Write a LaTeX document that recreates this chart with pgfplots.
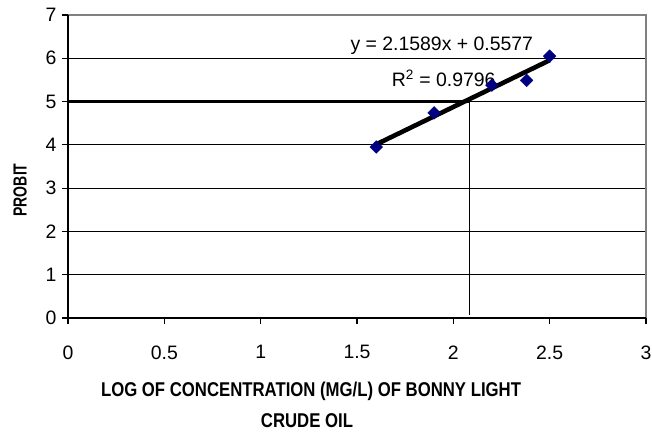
\documentclass[border=0pt]{standalone}
\usepackage{fontspec}
\setmainfont{Liberation Sans}
\newfontfamily\titlefont{Liberation Sans}[FakeStretch=0.84]
\newfontfamily\probitfont{Liberation Sans}[FakeStretch=0.74]
\usepackage{pgfplots}
\pgfplotsset{compat=1.18}
\definecolor{marknavy}{RGB}{0,0,128}
\begin{document}
\begin{tikzpicture}[x=1bp,y=1bp]
\useasboundingbox (-68,-114) rectangle (584,318);
\begin{axis}[
  at={(0,0)}, anchor=south west,
  scale only axis, width=578bp, height=303bp,
  xmin=0, xmax=3, ymin=0, ymax=7,
  xtick={0,0.5,1,1.5,2,2.5,3},
  ytick={0,1,2,3,4,5,6,7},
  xticklabels={0,0.5,1,1.5,2,2.5,3},
  yticklabels={0,1,2,3,4,5,6,7},
  tick align=outside, major tick length=6bp,
  xtick pos=bottom, ytick pos=left,
  tick style={black, line width=1.2bp},
  axis line style={draw=none},
  ymajorgrids, grid style={black, line width=1.1bp},
  ticklabel style={font=\fontsize{19.5}{22}\selectfont},
  xticklabel style={yshift=-18bp},
  yticklabel style={xshift=-2bp},
  /pgf/number format/assume math mode=true,
  clip=false,
]
\draw[gray, line width=1.3bp] (rel axis cs:0,1) -- (rel axis cs:1,1) -- (rel axis cs:1,0);
\draw[black, line width=1.5bp] (rel axis cs:0,1) -- (rel axis cs:0,0) -- (rel axis cs:1,0);
\addplot[black, line width=2.4bp] coordinates {(0,5) (2.085,5)};
\addplot[black, line width=1.4bp] coordinates {(2.085,5) (2.085,0.07)};
\addplot[only marks, mark=square*, mark size=4.5bp, mark options={rotate=45, fill=marknavy, draw=marknavy}] coordinates {
(1.60,3.95) (1.90,4.74) (2.20,5.38) (2.38,5.49) (2.50,6.05)};
\addplot[black, line width=4.6bp] coordinates {(1.6,4.012) (2.5,5.955)};
\node[font=\fontsize{19.5}{22}\selectfont] at (axis cs:1.94,6.30) {y = 2.1589x + 0.5577};
\node[font=\fontsize{19.5}{22}\selectfont] at (axis cs:1.95,5.54) {R\textsuperscript{2} = 0.9796};
\end{axis}
\node[font=\probitfont\bfseries\fontsize{19}{20}\selectfont, rotate=90] at (-48,128) {PROBIT};
\node[font=\titlefont\bfseries\fontsize{20}{22}\selectfont] at (243,-73) {LOG OF CONCENTRATION (MG/L) OF BONNY LIGHT};
\node[font=\titlefont\bfseries\fontsize{20}{22}\selectfont] at (239,-103) {CRUDE OIL};
\end{tikzpicture}
\end{document}
